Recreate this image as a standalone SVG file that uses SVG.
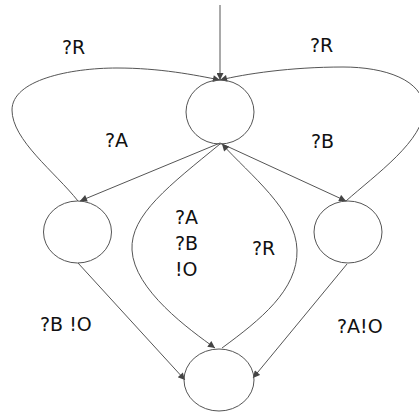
<svg xmlns="http://www.w3.org/2000/svg" width="419" height="412" viewBox="0 0 419 412">
<style>
.node{fill:none;stroke:#555;stroke-width:1}
.edge{fill:none;stroke:#555;stroke-width:1}
.lbl{font-family:"DejaVu Sans",sans-serif;font-size:19px;fill:#111}
</style>
<defs>
<marker id="arr" viewBox="0 0 10 10" refX="10" refY="5" markerWidth="9" markerHeight="7" markerUnits="userSpaceOnUse" orient="auto">
<path d="M0,0 L10,5 L0,10 z" fill="#444"/>
</marker>
</defs>
<rect width="419" height="412" fill="#fff"/>
<g id="connectors">
<path class="edge" d="M220,5 L220,80" marker-end="url(#arr)"/>
<path class="edge" d="M78,201 C55,172 12,140 12,110 C12,80 70,68 117,68 C160,68 195,75 220,80" marker-end="url(#arr)"/>
<path class="edge" d="M346,201 C375,175 425,140 424,108 C423,80 385,67 343,67 C290,67 245,74 220,80" marker-end="url(#arr)"/>
<path class="edge" d="M220,143 L80,201" marker-end="url(#arr)"/>
<path class="edge" d="M220,143 L346,201" marker-end="url(#arr)"/>
<path class="edge" d="M220,144 C170,185 130,215 132,250 C134,290 190,330 215,348" marker-end="url(#arr)"/>
<path class="edge" d="M222,348 C260,320 298,290 297,250 C296,210 250,175 222,144" marker-end="url(#arr)"/>
<path class="edge" d="M78,263 L185,380" marker-end="url(#arr)"/>
<path class="edge" d="M347,264 L253,378" marker-end="url(#arr)"/>
</g>
<g id="labels">
<text class="lbl" x="62" y="54">?R</text>
<text class="lbl" x="310" y="52">?R</text>
<text class="lbl" x="105" y="147">?A</text>
<text class="lbl" x="311" y="148">?B</text>
<text class="lbl" x="175" y="224">?A</text>
<text class="lbl" x="175" y="250">?B</text>
<text class="lbl" x="175" y="276">!O</text>
<text class="lbl" x="252" y="255">?R</text>
<text class="lbl" x="40" y="331">?B !O</text>
<text class="lbl" x="337" y="333">?A!O</text>
</g>
<g id="n_top"><ellipse class="node" cx="220" cy="112" rx="34" ry="32"/></g>
<g id="n_left"><ellipse class="node" cx="77.5" cy="232" rx="34" ry="31"/></g>
<g id="n_right"><ellipse class="node" cx="348" cy="232" rx="34" ry="31"/></g>
<g id="n_bottom"><ellipse class="node" cx="219" cy="380" rx="35" ry="31"/></g>
</svg>
